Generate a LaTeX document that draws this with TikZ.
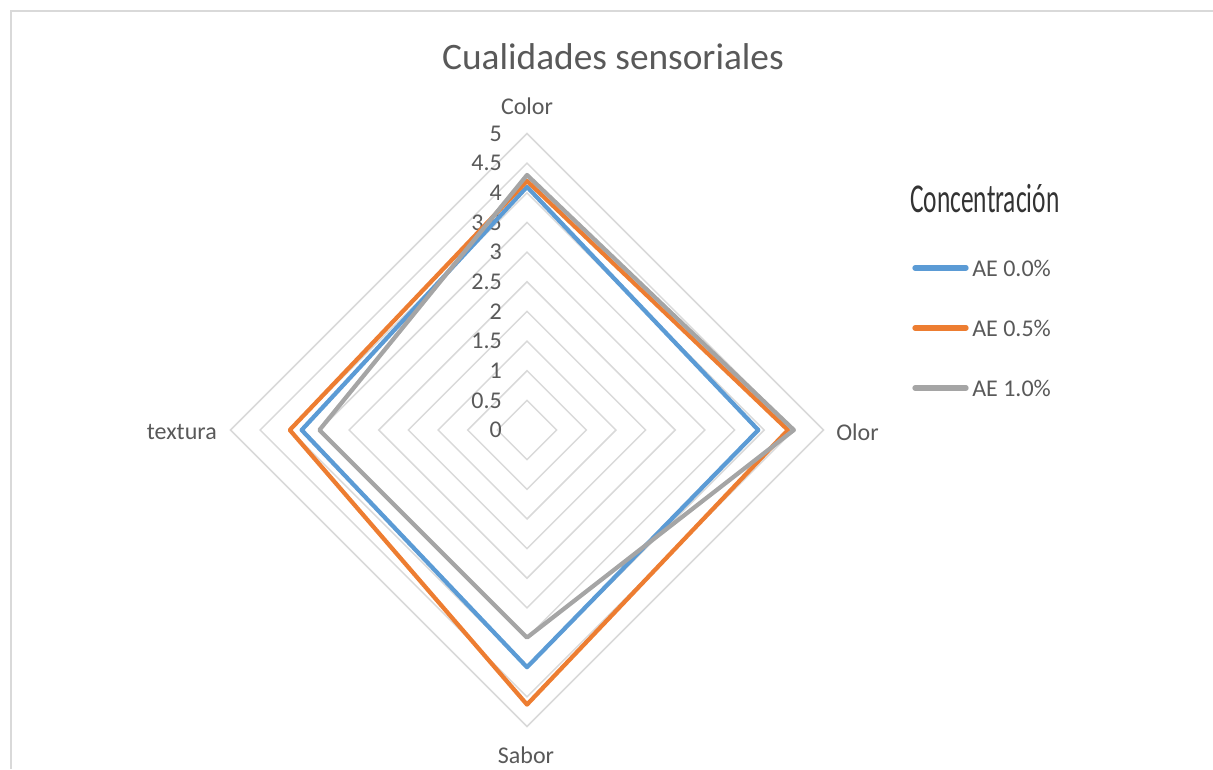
\documentclass[tikz,border=0pt]{standalone}
\usepackage{fontspec}
\setmainfont{Carlito}
\usepackage{tikz}
\usetikzlibrary{calc}
\definecolor{txtgray}{HTML}{595959}
\definecolor{gridgray}{HTML}{D9D9D9}
\definecolor{aeblue}{HTML}{5B9BD5}
\definecolor{aeorange}{HTML}{ED7D31}
\definecolor{aegray}{HTML}{A5A5A5}
\newcommand\unitpx{59.3}
\tikzset{%
	gridline/.style = {draw=gridgray,line width=1.1pt},
	serie/.style = {line width=3.2pt,line join=round},
	axlabel/.style = {text=txtgray,font=\fontsize{18pt}{22pt}\selectfont,inner sep=0},
	ticklabel/.style = {text=txtgray,font=\fontsize{18pt}{22pt}\selectfont,inner sep=0,anchor=east},
	legline/.style = {line width=4pt,line cap=round}%
}

\begin{document}
\begin{tikzpicture}[x=0.75pt,y=-0.75pt]
			\useasboundingbox (0,0) rectangle (1213,769);
			\draw[gridgray,line width=0.9pt] (1213,11) -- (11,11) -- (11,769);
			
			\node[text=txtgray,font=\fontsize{28pt}{32pt}\selectfont,inner sep=0](title) at (613,57){Cualidades sensoriales};
			
			% grid
			\coordinate (c) at (527,430);
			\foreach \k in {1,...,10}{
				\draw[gridline] (527,{430-\k*\unitpx/2}) -- ({527+\k*\unitpx/2},430) -- (527,{430+\k*\unitpx/2}) -- ({527-\k*\unitpx/2},430) -- cycle;
			}
			\foreach \k/\t in {0/0,1/0.5,2/1,3/1.5,4/2,5/2.5,6/3,7/3.5,8/4,9/4.5,10/5}{
				\node[ticklabel](t\k) at (502,{430-\k*\unitpx/2}){\t};
			}
			
			% series
			\foreach \col/\a/\b/\c/\d in {aeblue/4.1/3.9/4.0/3.8, aeorange/4.2/4.4/4.63/4.0, aegray/4.3/4.5/3.5/3.5}{
				\draw[serie,\col] (527,{430-\unitpx*\a}) -- ({527+\unitpx*\b},430) -- (527,{430+\unitpx*\c}) -- ({527-\unitpx*\d},430) -- cycle;
			}
			
			\node[axlabel](color) at (527,106){Color};
			\node[axlabel,anchor=west](olor) at (836,432){Olor};
			\node[axlabel,anchor=east](textura) at (217,432){textura};
			\node[axlabel](sabor) at (526,755){Sabor};
			
			% legend
			\node[inner sep=0,anchor=west](legtitle) at (910,199){\scalebox{0.62}[1]{\fontsize{30.75pt}{34pt}\selectfont\color{black!80}Concentración}};
			\foreach \n/\col/\y/\t in {a/aeblue/268/AE 0.0\%, b/aeorange/328/AE 0.5\%, c/aegray/388/AE 1.0\%}{
				\coordinate (l\n) at (915,\y);
				\coordinate (r\n) at (966,\y);
				\node[axlabel,anchor=west](leg\n) at (972,\y){\t};
				\draw[legline,\col] (l\n) -- (r\n);
			}
\end{tikzpicture}
\end{document}
